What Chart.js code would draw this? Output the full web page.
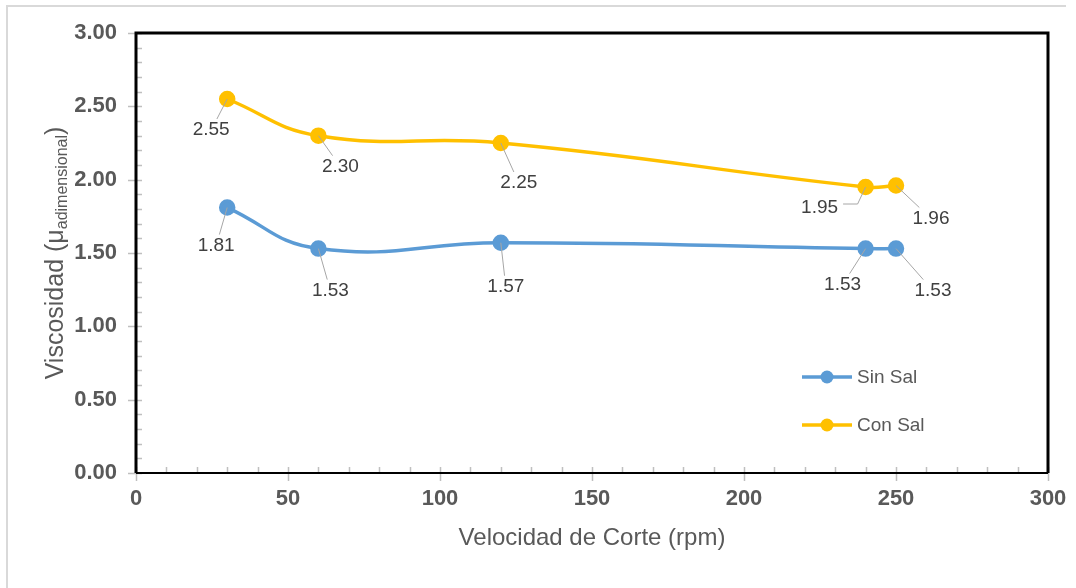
<!DOCTYPE html>
<html>
<head>
<meta charset="utf-8">
<script src="https://cdn.jsdelivr.net/npm/chart.js@4.4.1/dist/chart.umd.min.js"></script>
<style>
  body { margin: 0; background: #fff; }
  #wrap { width: 1076px; height: 588px; position: relative; }
</style>
</head>
<body>
<div id="wrap"><canvas id="chart"></canvas></div>
<script>
// data
const velocidad = [30, 60, 120, 240, 250];
const sinSal = [1.81, 1.53, 1.57, 1.53, 1.53];
const conSal = [2.55, 2.30, 2.25, 1.95, 1.96];
const seriesNames = ['Sin Sal', 'Con Sal'];
const xTitle = 'Velocidad de Corte (rpm)';
const yTitleMain = 'Viscosidad (μ';
const yTitleSub = 'adimensional';

const blue = '#5B9BD5';
const gold = '#FFC000';
const textGray = '#595959';
const tickGray = '#BFBFBF';
const fontFam = '"Liberation Sans", Arial, sans-serif';

// where each data label sits, relative to its point (px)
const labelOffsets = [
    [[-11, 38], [12, 42], [5, 44], [-23, 36], [37, 42]],
    [[-16, 31], [22, 31], [18, 40], [-46, 21], [35, 33]]
];

function toPoints(ys) {
    return velocidad.map((x, i) => ({ x: x, y: ys[i] }));
}

const decorPlugin = {
    id: 'decor',
    afterDatasetsDraw(chart) {
        const ctx = chart.ctx;

        // data labels with leader lines
        ctx.save();
        ctx.font = '19px ' + fontFam;
        ctx.textAlign = 'center';
        ctx.textBaseline = 'middle';
        chart.data.datasets.forEach((ds, di) => {
            const meta = chart.getDatasetMeta(di);
            meta.data.forEach((pt, i) => {
                const off = labelOffsets[di][i];
                const lx = pt.x + off[0], ly = pt.y + off[1];
                const txt = ds.data[i].y.toFixed(2);
                const w = ctx.measureText(txt).width / 2 + 3, h = 11;
                ctx.strokeStyle = '#A6A6A6';
                ctx.lineWidth = 1;
                ctx.beginPath();
                if (di === 1 && i === 3) {
                    // elbow leader
                    ctx.moveTo(pt.x, pt.y);
                    ctx.lineTo(pt.x - 8, ly - 4);
                    ctx.lineTo(lx + w + 2, ly - 4);
                } else {
                    const dx = lx - pt.x, dy = ly - pt.y;
                    const t = Math.min(Math.abs(w / dx) || 1, Math.abs(h / dy) || 1);
                    ctx.moveTo(pt.x, pt.y);
                    ctx.lineTo(lx - dx * t, ly - dy * t);
                }
                ctx.stroke();
                ctx.fillStyle = '#404040';
                ctx.fillText(txt, lx, ly);
            });
        });
        ctx.restore();

        // legend inside plot
        ctx.save();
        const legY = [377, 425];
        [blue, gold].forEach((c, k) => {
            ctx.strokeStyle = c;
            ctx.lineWidth = 3.5;
            ctx.beginPath();
            ctx.moveTo(802, legY[k]);
            ctx.lineTo(852, legY[k]);
            ctx.stroke();
            ctx.fillStyle = c;
            ctx.beginPath();
            ctx.arc(827, legY[k], 6.5, 0, Math.PI * 2);
            ctx.fill();
            ctx.fillStyle = textGray;
            ctx.font = '19px ' + fontFam;
            ctx.textBaseline = 'middle';
            ctx.textAlign = 'left';
            ctx.fillText(seriesNames[k], 857, legY[k] + 1);
        });
        ctx.restore();
    },
    afterDraw(chart) {
        const ctx = chart.ctx;
        const xs = chart.scales.x, ys = chart.scales.y;
        const a = chart.chartArea;
        ctx.save();

        // outer light border (left and top)
        ctx.strokeStyle = '#D9D9D9';
        ctx.lineWidth = 2;
        ctx.beginPath();
        ctx.moveTo(7, 588);
        ctx.lineTo(7, 6);
        ctx.lineTo(1066, 6);
        ctx.stroke();

        // tick marks
        ctx.strokeStyle = tickGray;
        ctx.lineWidth = 1.5;
        for (let v = 0; v <= 30; v++) {
            const y = Math.round(ys.getPixelForValue(v / 10)) + 0.5;
            ctx.beginPath();
            if (v % 5 === 0) { ctx.moveTo(a.left - 8, y); ctx.lineTo(a.left + 6, y); }
            else { ctx.moveTo(a.left, y); ctx.lineTo(a.left + 6, y); }
            ctx.stroke();
        }
        for (let v = 0; v <= 300; v += 10) {
            const x = Math.round(xs.getPixelForValue(v)) + 0.5;
            ctx.beginPath();
            if (v % 50 === 0) { ctx.moveTo(x, a.bottom - 6); ctx.lineTo(x, a.bottom + 8); }
            else { ctx.moveTo(x, a.bottom - 6); ctx.lineTo(x, a.bottom); }
            ctx.stroke();
        }

        // black frame
        ctx.strokeStyle = '#000';
        ctx.lineWidth = 3;
        ctx.beginPath();
        ctx.moveTo(a.left, a.bottom);
        ctx.lineTo(a.left, a.top);
        ctx.lineTo(a.right, a.top);
        ctx.lineTo(a.right, a.bottom);
        ctx.stroke();
        ctx.lineWidth = 2;
        ctx.beginPath();
        ctx.moveTo(a.left, a.bottom);
        ctx.lineTo(a.right, a.bottom);
        ctx.stroke();

        // axis titles
        ctx.fillStyle = textGray;
        ctx.font = '24px ' + fontFam;
        ctx.textAlign = 'center';
        ctx.textBaseline = 'middle';
        ctx.fillText(xTitle, (a.left + a.right) / 2, 538);

        ctx.translate(63, (a.top + a.bottom) / 2);
        ctx.rotate(-Math.PI / 2);
        ctx.textAlign = 'left';
        ctx.textBaseline = 'alphabetic';
        const mainFont = '25px ' + fontFam, subFont = '16px ' + fontFam;
        ctx.font = mainFont;
        const w1 = ctx.measureText(yTitleMain).width;
        const w3 = ctx.measureText(')').width;
        ctx.font = subFont;
        const w2 = ctx.measureText(yTitleSub).width;
        let x0 = -(w1 + w2 + w3) / 2;
        ctx.font = mainFont;
        ctx.fillText(yTitleMain, x0, 0);
        ctx.font = subFont;
        ctx.fillText(yTitleSub, x0 + w1, 4);
        ctx.font = mainFont;
        ctx.fillText(')', x0 + w1 + w2, 0);
        ctx.restore();
    }
};

new Chart(document.getElementById('chart'), {
    type: 'scatter',
    data: {
        datasets: [
            {
                label: seriesNames[0],
                data: toPoints(sinSal),
                showLine: true,
                tension: 0.45,
                borderColor: blue,
                backgroundColor: blue,
                borderWidth: 3.5,
                pointRadius: 6.5,
                pointHoverRadius: 6.5
            },
            {
                label: seriesNames[1],
                data: toPoints(conSal),
                showLine: true,
                tension: 0.45,
                borderColor: gold,
                backgroundColor: gold,
                borderWidth: 3.5,
                pointRadius: 6.5,
                pointHoverRadius: 6.5
            }
        ]
    },
    options: {
        responsive: true,
        maintainAspectRatio: false,
        animation: false,
        layout: { padding: { top: 33, right: 28, left: 0, bottom: 0 } },
        plugins: { legend: { display: false }, tooltip: { enabled: false } },
        scales: {
            x: {
                type: 'linear',
                min: 0,
                max: 300,
                grid: { display: false },
                border: { display: false },
                ticks: {
                    stepSize: 50,
                    padding: 5,
                    color: textGray,
                    font: { family: fontFam, size: 22, weight: 'bold' }
                },
                afterFit(scale) { scale.height = 115; }
            },
            y: {
                min: 0,
                max: 3,
                grid: { display: false },
                border: { display: false },
                ticks: {
                    stepSize: 0.5,
                    padding: 11,
                    color: textGray,
                    font: { family: fontFam, size: 22, weight: 'bold' },
                    callback: v => v.toFixed(2)
                },
                afterFit(scale) { scale.width = 136; }
            }
        }
    },
    plugins: [decorPlugin]
});
</script>
</body>
</html>
